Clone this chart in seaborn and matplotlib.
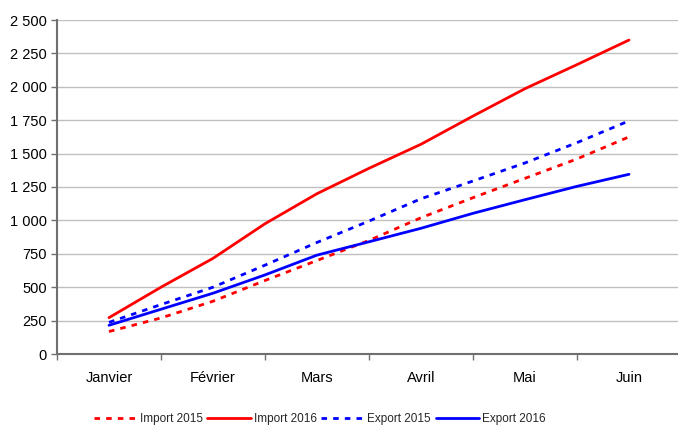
import matplotlib
matplotlib.use("Agg")
import matplotlib.pyplot as plt
from matplotlib.ticker import FuncFormatter, FixedLocator
import seaborn as sns
import pandas as pd

# ---- data ----
mois = ["Janvier", "Février", "Mars", "Avril", "Mai", "Juin"]
periode = [0, 0.5, 1, 1.5, 2, 2.5, 3, 3.5, 4, 4.5, 5]  # month index (half-month steps)
import_2015 = [168, 270, 395, 550, 700, 850, 1020, 1170, 1315, 1460, 1625]
import_2016 = [272, 500, 716, 975, 1200, 1390, 1570, 1781, 1986, 2166, 2350]
export_2015 = [237, 370, 500, 665, 835, 995, 1162, 1295, 1430, 1582, 1745]
export_2016 = [215, 335, 455, 592, 740, 840, 941, 1053, 1155, 1255, 1345]
y_ticks = [0, 250, 500, 750, 1000, 1250, 1500, 1750, 2000, 2250, 2500]

series = [
    ("Import 2015", import_2015, "#FF0000", (0, (2.0, 2.2))),
    ("Import 2016", import_2016, "#FF0000", "-"),
    ("Export 2015", export_2015, "#0000FF", (0, (2.0, 2.2))),
    ("Export 2016", export_2016, "#0000FF", "-"),
]

sns.set_theme(style="white")
plt.rcParams["font.family"] = ["Liberation Sans", "DejaVu Sans"]

W, H = 678, 426
fig = plt.figure(figsize=(W / 100, H / 100), dpi=100)
left, bottom, top = 57, 354, 20
ax = fig.add_axes([left / W, (H - bottom) / H, (W - left) / W, (bottom - top) / H])

for name, vals, col, ls in series:
    df = pd.DataFrame({"x": periode, "y": vals})
    sns.lineplot(data=df, x="x", y="y", ax=ax, color=col, linestyle=ls,
                 linewidth=2.0, label=name)

ax.set_xlim(-0.5, -0.5 + (W - left) / 104)
ax.set_ylim(0, 2500)
ax.set_xlabel("")
ax.set_ylabel("")

ax.xaxis.set_major_locator(FixedLocator(range(len(mois))))
ax.set_xticklabels(mois)
ax.xaxis.set_minor_locator(FixedLocator([i + 0.5 for i in range(-1, len(mois))]))
ax.tick_params(axis="x", which="major", length=0, pad=12, labelsize=10.5, colors="black")
ax.tick_params(axis="x", which="minor", bottom=True, length=4, width=1, color="#707070")

ax.yaxis.set_major_locator(FixedLocator(y_ticks))
ax.yaxis.set_major_formatter(FuncFormatter(lambda v, p: f"{int(v):,}".replace(",", " ")))
ax.tick_params(axis="y", left=True, length=4, width=1, color="#707070", pad=3.5,
               labelsize=10.5, labelcolor="black")

ax.grid(axis="y", color="#C0C0C0", linewidth=1)
ax.grid(axis="x", visible=False)
for s in ["top", "right"]:
    ax.spines[s].set_visible(False)
for s in ["left", "bottom"]:
    ax.spines[s].set_color("#707070")
    ax.spines[s].set_linewidth(1.5)
ax.set_axisbelow(True)

ax.legend(loc="center", bbox_to_anchor=(319.5 / W, (H - 419) / H),
          bbox_transform=fig.transFigure, ncol=4, frameon=False, fontsize=8.5,
          handlelength=3.7, handletextpad=0.2, columnspacing=0.4,
          borderaxespad=0, borderpad=0)

fig.savefig("out.png", dpi=100)
